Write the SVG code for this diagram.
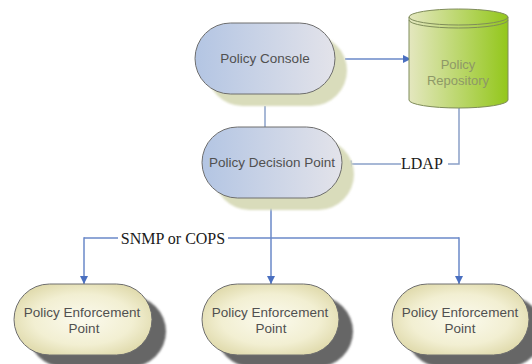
<svg xmlns="http://www.w3.org/2000/svg" width="532" height="364" viewBox="0 0 532 364">
<defs>
<linearGradient id="blueGrad" x1="0" y1="0" x2="1" y2="0">
<stop offset="0" stop-color="#b3c5e3"/>
<stop offset="1" stop-color="#e3e3ea"/>
</linearGradient>
<radialGradient id="pepGrad" cx="0.5" cy="0.5" r="0.6">
<stop offset="0" stop-color="#fbfaee"/>
<stop offset="0.6" stop-color="#f2efd2"/>
<stop offset="1" stop-color="#ddd7a6"/>
</radialGradient>
<linearGradient id="cylGrad" x1="0" y1="0" x2="1" y2="0">
<stop offset="0" stop-color="#e4e7bf"/>
<stop offset="1" stop-color="#93c71b"/>
</linearGradient>
<filter id="soft" x="-10%" y="-10%" width="120%" height="120%">
<feGaussianBlur stdDeviation="1.2"/>
</filter>
<marker id="arrow" viewBox="0 0 10 10" refX="10" refY="5" markerWidth="8" markerHeight="8" markerUnits="userSpaceOnUse" orient="auto">
<path d="M0,0 L10,5 L0,10 z" fill="#4a6fc0"/>
</marker>
<style>
.node { stroke:#6e6e6e; stroke-width:1; }
.blue { fill:url(#blueGrad); }
.pep { fill:url(#pepGrad); }
.shadowG { fill:#d9dcbb; filter:url(#soft); }
.shadowD { fill:#666666; filter:url(#soft); }
.lbl { font-family:"Liberation Sans", Arial, sans-serif; font-size:13.5px; fill:#505050; text-anchor:middle; }
.repo { font-family:"Liberation Sans", Arial, sans-serif; font-size:13px; fill:#8e9868; text-anchor:middle; }
.ser { font-family:"Liberation Serif", "Times New Roman", serif; font-size:16px; fill:#1a1a1a; text-anchor:middle; }
.conn { fill:none; stroke:#6a88c8; stroke-width:1.5; }
.conn2 { fill:none; stroke:#8aa0c8; stroke-width:1.5; }
</style>
</defs>
<rect width="532" height="364" fill="#ffffff"/>

<g id="connectors">
<line class="conn" x1="345" y1="59" x2="411" y2="59" marker-end="url(#arrow)"/>
<line class="conn2" x1="265" y1="106" x2="265" y2="127"/>
<polyline class="conn2" points="459,108 459,164 448,164"/>
<line class="conn2" x1="401" y1="164" x2="351" y2="164"/>
<line class="conn2" x1="351" y1="160.5" x2="351" y2="167.5"/>
<line class="conn" x1="271" y1="198" x2="271" y2="284" marker-end="url(#arrow)"/>
<line class="conn" x1="118" y1="238" x2="84" y2="238"/>
<line class="conn" x1="84" y1="237.25" x2="84" y2="284" marker-end="url(#arrow)"/>
<line class="conn" x1="228" y1="238" x2="459" y2="238"/>
<line class="conn" x1="459" y1="237.25" x2="459" y2="284" marker-end="url(#arrow)"/>
<text class="ser" x="401" y="169" text-anchor="start" style="text-anchor:start">LDAP</text>
<text class="ser" x="173" y="244">SNMP or COPS</text>
</g>

<g id="policy-console">
<rect class="shadowG" x="207" y="35" width="140" height="71" rx="35.5"/>
<rect class="node blue" x="195" y="23" width="140" height="71" rx="35.5"/>
<text class="lbl" x="265" y="63">Policy Console</text>
</g>

<g id="policy-repository">
<path d="M409,17 L409,100 A49.5,8 0 0 0 508,100 L508,17 A49.5,8 0 0 0 409,17 Z" fill="url(#cylGrad)" stroke="#7f8c5a" stroke-width="1"/>
<path d="M409,17 A49.5,8 0 0 0 508,17" fill="none" stroke="#7f8c5a" stroke-width="1"/>
<path d="M409,20 A49.5,8 0 0 0 508,20" fill="none" stroke="#7f8c5a" stroke-width="1"/>
<text class="repo" x="458" y="69">Policy</text>
<text class="repo" x="458" y="85">Repository</text>
</g>

<g id="policy-decision-point">
<rect class="shadowG" x="214" y="139" width="140" height="71" rx="35.5"/>
<rect class="node blue" x="202" y="127" width="140" height="71" rx="35.5"/>
<text class="lbl" x="272" y="167">Policy Decision Point</text>
</g>

<g id="pep-left">
<rect class="shadowD" x="28" y="296" width="138" height="71" rx="35.5"/>
<rect class="node pep" x="14" y="284" width="138" height="71" rx="35.5"/>
<text class="lbl" x="82" y="317">Policy Enforcement</text>
<text class="lbl" x="84" y="333">Point</text>
</g>

<g id="pep-middle">
<rect class="shadowD" x="216" y="296" width="137" height="71" rx="35.5"/>
<rect class="node pep" x="202" y="284" width="137" height="71" rx="35.5"/>
<text class="lbl" x="270" y="317">Policy Enforcement</text>
<text class="lbl" x="271" y="333">Point</text>
</g>

<g id="pep-right">
<rect class="shadowD" x="406" y="296" width="137" height="71" rx="35.5"/>
<rect class="node pep" x="392" y="284" width="137" height="71" rx="35.5"/>
<text class="lbl" x="460" y="317">Policy Enforcement</text>
<text class="lbl" x="460" y="333">Point</text>
</g>
</svg>
